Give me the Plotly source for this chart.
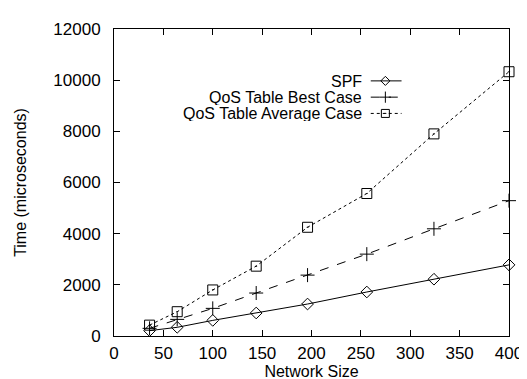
import plotly.graph_objects as go

network_size = [36, 64, 100, 144, 196, 256, 324, 400]
spf = [210, 340, 610, 900, 1250, 1720, 2220, 2780]
qos_best = [300, 650, 1080, 1680, 2380, 3200, 4190, 5290]
qos_avg = [425, 950, 1800, 2730, 4250, 5570, 7900, 10330]

series_names = ["SPF", "QoS Table Best Case", "QoS Table Average Case"]
x_ticks = [0, 50, 100, 150, 200, 250, 300, 350, 400]
y_ticks = [0, 2000, 4000, 6000, 8000, 10000, 12000]

FONT = "Liberation Sans, Arial, Helvetica, sans-serif"
FS = 17
styles = [
    dict(dash="solid", symbol="diamond-open", size=9),
    dict(dash="dash", symbol="cross-thin-open", size=10),
    dict(dash="dot", symbol="square-open-dot", size=10),
]
series = [spf, qos_best, qos_avg]

fig = go.Figure()
for name, vals, st in zip(series_names, series, styles):
    fig.add_trace(go.Scatter(
        x=network_size, y=vals, name=name, mode="lines+markers",
        line=dict(color="black", width=1, dash=st["dash"]),
        marker=dict(symbol=st["symbol"], size=st["size"], color="black",
                    line=dict(color="black", width=1)),
        showlegend=False, cliponaxis=False,
    ))

# manual legend (text right-aligned, sample to the right), like gnuplot
leg_y = [0.831, 0.778, 0.725]
for i, (name, st) in enumerate(zip(series_names, styles)):
    fig.add_annotation(xref="paper", yref="paper", x=0.63, y=leg_y[i],
                       text=name, showarrow=False, xanchor="right", yanchor="middle",
                       height=16, borderpad=0,
                       font=dict(family=FONT, size=16, color="black"))
    fig.add_shape(type="line", xref="paper", yref="paper",
                  x0=0.65, x1=0.728, y0=leg_y[i], y1=leg_y[i],
                  line=dict(color="black", width=1, dash=st["dash"]))
    fig.add_trace(go.Scatter(
        x=[0.687], y=[leg_y[i]], xaxis="x2", yaxis="y2", mode="markers",
        marker=dict(symbol=st["symbol"], size=st["size"] - 2, color="black",
                    line=dict(color="black", width=1)),
        showlegend=False, hoverinfo="skip",
    ))

axis_common = dict(
    showline=True, linecolor="black", linewidth=1, mirror="ticks",
    ticks="inside", ticklen=6, tickcolor="black", showgrid=False, zeroline=False,
    tickfont=dict(family=FONT, size=FS, color="black"), tickformat="d",
)

fig.update_layout(
    width=527, height=379,
    margin=dict(l=106, r=15, t=15, b=45),
    paper_bgcolor="white", plot_bgcolor="white",
    font=dict(family=FONT, size=FS, color="black"),
    xaxis=dict(range=[0, 400], tickvals=x_ticks, ticklabelstandoff=2,
               title=dict(text="Network Size", standoff=0,
                          font=dict(family=FONT, size=16)),
               **axis_common),
    yaxis=dict(range=[0, 12000], tickvals=y_ticks, ticklabelstandoff=9,
               title=dict(text="Time (microseconds)", standoff=22,
                          font=dict(family=FONT, size=16)),
               **axis_common),
    xaxis2=dict(overlaying="x", range=[0, 1], visible=False, fixedrange=True),
    yaxis2=dict(overlaying="y", range=[0, 1], visible=False, fixedrange=True),
)

fig.write_html("out.html")
